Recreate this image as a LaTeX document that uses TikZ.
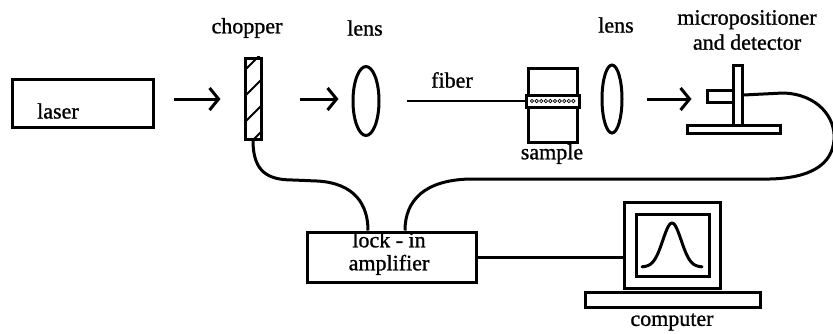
\documentclass[tikz,border=0pt]{standalone}
\usepackage{fontspec}
\setmainfont{Liberation Serif}
\newfontfamily\lblfont{Liberation Serif}[BoldFont={Liberation Serif}, BoldFeatures={FakeBold=1.0}]
\usetikzlibrary{arrows.meta,calc,shapes.geometric}
\begin{document}
\begin{tikzpicture}[x=1pt,y=-1pt,
  part/.style={draw, line width=3pt, inner sep=0pt, fill=white},
  lensshape/.style={draw, ellipse, line width=3pt, inner sep=0pt},
  lbl/.style={font=\lblfont\bfseries\fontsize{22}{25}\selectfont, inner sep=0pt, align=center},
  beam/.style={line width=3pt, -{Straight Barb[length=9pt,width=22pt,line width=3pt]}},
  cable/.style={line width=3pt},
  fiberline/.style={line width=2pt},
]
\useasboundingbox (0,0) rectangle (833,333);

% laser
\node[part, minimum width=141pt, minimum height=48pt] (laser) at (82.5,103) {};
\node[lbl, anchor=west] (laserlbl) at (37,111) {laser};

% chopper with hatching
\node[part, minimum width=16pt, minimum height=81pt] (chopper) at (253,98.5) {};
\begin{scope}
  \clip (chopper.north west) rectangle (chopper.south east);
  \foreach \y in {70,96,122,148}
    \draw[line width=2pt] (245,\y) -- (261,\y-16);
\end{scope}
\node[lbl] (chopperlbl) at (247,28) {chopper};

% first lens
\node[lensshape, minimum width=26pt, minimum height=69pt] (lensA) at (366,101) {};
\node[lbl] (lensAlbl) at (365,28) {lens};

% sample with fiber band
\node[part, minimum width=49pt, minimum height=74pt] (sample) at (552.5,105) {};
\node[part, minimum width=53pt, minimum height=12pt] (band) at (552.5,101) {};
\foreach \i in {0,...,9}
  \draw[line width=0.7pt] (532+\i*4.6,101) circle (1.7);
\node[lbl] (samplelbl) at (552,154) {sample};
\node[lbl] (fiberlbl) at (452,80) {fiber};

% second lens
\node[lensshape, minimum width=20pt, minimum height=68pt] (lensB) at (612,99) {};
\node[lbl] (lensBlbl) at (616,25) {lens};

% micropositioner and detector
\node[part, minimum width=9pt, minimum height=60pt] (post) at (737.5,95) {};
\node[part, minimum width=26pt, minimum height=12pt] (probe) at (720,96) {};
\node[part, minimum width=93pt, minimum height=8pt] (stage) at (733.5,129) {};
\node[lbl] (detlbl) at (747,30) {micropositioner\\and detector};

% beam arrows and fiber
\draw[beam] ([shift={(19,-4)}]laser.east) -- ([shift={(-23,0.5)}]chopper.west);
\draw[beam] ([shift={(37,0.5)}]chopper.east) -- ([shift={(-13,-2)}]lensA.west);
\draw[fiberline] ([xshift=26pt]lensA.east |- band.west) -- (band.west);
\draw[beam] ([xshift=23pt]lensB.east) -- ([shift={(-14,3)}]probe.west);

% lock-in amplifier
\node[part, minimum width=169pt, minimum height=50pt] (lockin) at (391.5,257) {};
\node[lbl, font=\lblfont\bfseries\fontsize{22}{23}\selectfont] (lockinlbl) at (389,253.5) {lock - in\\amplifier};

% computer
\node[part, minimum width=96pt, minimum height=86pt] (monitor) at (672,245) {};
\node[part, minimum width=73pt, minimum height=62pt] (screen) at (672.5,245) {};
\node[part, minimum width=175pt, minimum height=15pt] (kbd) at (672.5,299.5) {};
\draw[line width=3pt, line cap=round] plot[domain=642:702, samples=60, smooth]
  ({\x},{267-44*exp(-((\x-672)/13)^2)});
\node[lbl] (complbl) at (672,322) {computer};

% cables
\draw[cable] (chopper.south) .. controls (253,172) and (268,180) .. (293,180)
  -- (317,181) .. controls (355,183) and (368,205) .. ([xshift=-23.5pt]lockin.north);
\draw[cable] (post.east |- 0,95) -- (783,93)
  .. controls (818,94) and (836,118) .. (834,140)
  .. controls (832,165) and (810,178) .. (770,179)
  -- (470,179) .. controls (425,180) and (405,200) .. ([xshift=13.5pt]lockin.north);
\draw[cable] (lockin.east) -- (lockin.east -| monitor.west);
\end{tikzpicture}
\end{document}
